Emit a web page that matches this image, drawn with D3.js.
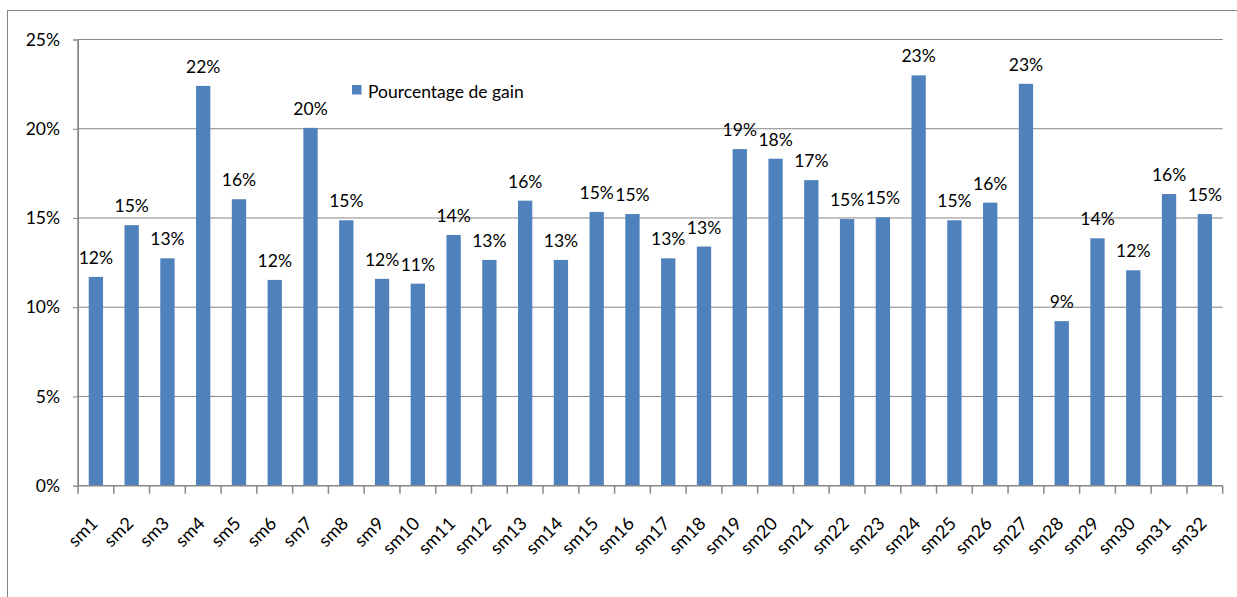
<!DOCTYPE html>
<html>
<head>
<meta charset="utf-8">
<script src="https://cdn.jsdelivr.net/npm/d3@7"></script>
<style>
  html, body { margin: 0; padding: 0; background: #ffffff; }
  svg { display: block; }
  text { font-family: Lato, "Open Sans", sans-serif; fill: #000; }
</style>
</head>
<body>
<svg id="chart" width="1237" height="597"></svg>
<script>
const categories = ["sm1","sm2","sm3","sm4","sm5","sm6","sm7","sm8","sm9","sm10","sm11","sm12","sm13","sm14","sm15","sm16","sm17","sm18","sm19","sm20","sm21","sm22","sm23","sm24","sm25","sm26","sm27","sm28","sm29","sm30","sm31","sm32"];
const gainValues = [11.7,14.6,12.74,22.4,16.05,11.53,20.05,14.87,11.59,11.32,14.05,12.65,15.97,12.65,15.34,15.22,12.74,13.4,18.86,18.32,17.12,14.94,15.04,22.99,14.87,15.86,22.52,9.22,13.86,12.07,16.34,15.22];
const yTickValues = [0,5,10,15,20,25];
const seriesName = "Pourcentage de gain";

(function () {
const svg = d3.select("#chart");
const pLeft = 78, pRight = 1222.7, pTop = 39.5, pBottom = 485.7;
const gray = "#868686";
const barColor = "#4F81BD";

// outer frame
svg.append("rect").attr("x", 7.5).attr("y", 10.5).attr("width", 1300).attr("height", 700)
  .attr("fill", "none").attr("stroke", gray).attr("stroke-width", 1);

const x = d3.scaleBand().domain(categories).range([pLeft, pRight]).paddingInner(0.6).paddingOuter(0.3);
const y = d3.scaleLinear().domain([0, 25]).range([pBottom, pTop]);

// gridlines
svg.append("g").selectAll("line").data(yTickValues.filter(d => d > 0)).join("line")
  .attr("x1", pLeft).attr("x2", pRight)
  .attr("y1", d => y(d)).attr("y2", d => y(d))
  .attr("stroke", gray).attr("stroke-width", 1);

// y axis
const yAxis = svg.append("g").attr("transform", `translate(${pLeft},0)`)
  .call(d3.axisLeft(y).tickValues(yTickValues).tickFormat(d => d + "%").tickSize(5).tickPadding(13));
yAxis.selectAll("path, line").attr("stroke", gray);
yAxis.selectAll("text").style("font-size", "17.5px").style("font-family", "Lato, sans-serif").attr("fill", "#000");

// bars
svg.append("g").selectAll("rect").data(categories).join("rect")
  .attr("x", (d) => x(d))
  .attr("width", x.bandwidth())
  .attr("y", (d, i) => y(gainValues[i]))
  .attr("height", (d, i) => y(0) - y(gainValues[i]))
  .attr("fill", barColor);

// axis lines
svg.append("line").attr("x1", pLeft).attr("x2", pRight).attr("y1", y(0)).attr("y2", y(0))
  .attr("stroke", gray).attr("stroke-width", 1.5);
svg.append("line").attr("x1", pLeft).attr("x2", pLeft).attr("y1", pTop).attr("y2", pBottom)
  .attr("stroke", gray).attr("stroke-width", 1.5);

// x ticks at band boundaries
const step = x.step();
const boundaries = categories.map(d => x(d) + x.bandwidth() / 2 - step / 2)
  .concat([x(categories[categories.length - 1]) + x.bandwidth() / 2 + step / 2]);
svg.append("g").selectAll("line").data(boundaries).join("line")
  .attr("x1", d => d).attr("x2", d => d)
  .attr("y1", y(0)).attr("y2", y(0) + 8)
  .attr("stroke", gray).attr("stroke-width", 1.5);

// x labels
svg.append("g").selectAll("text").data(categories).join("text")
  .attr("transform", d => `translate(${x(d) + x.bandwidth() / 2 + 3},${y(0) + 39}) rotate(-45)`)
  .attr("text-anchor", "end")
  .style("font-size", "18px")
  .text(d => d);

// data labels
svg.append("g").selectAll("text").data(categories).join("text")
  .attr("x", d => x(d) + x.bandwidth() / 2)
  .attr("y", (d, i) => y(gainValues[i]) - 13)
  .attr("text-anchor", "middle")
  .style("font-size", "17.5px")
  .text((d, i) => Math.round(gainValues[i]) + "%");

// legend
const lg = svg.append("g");
lg.append("rect").attr("x", 352).attr("y", 85).attr("width", 9.5).attr("height", 9.5).attr("fill", barColor);
lg.append("text").attr("x", 368).attr("y", 98).style("font-size", "17.5px").text(seriesName);
})();
</script>
</body>
</html>
